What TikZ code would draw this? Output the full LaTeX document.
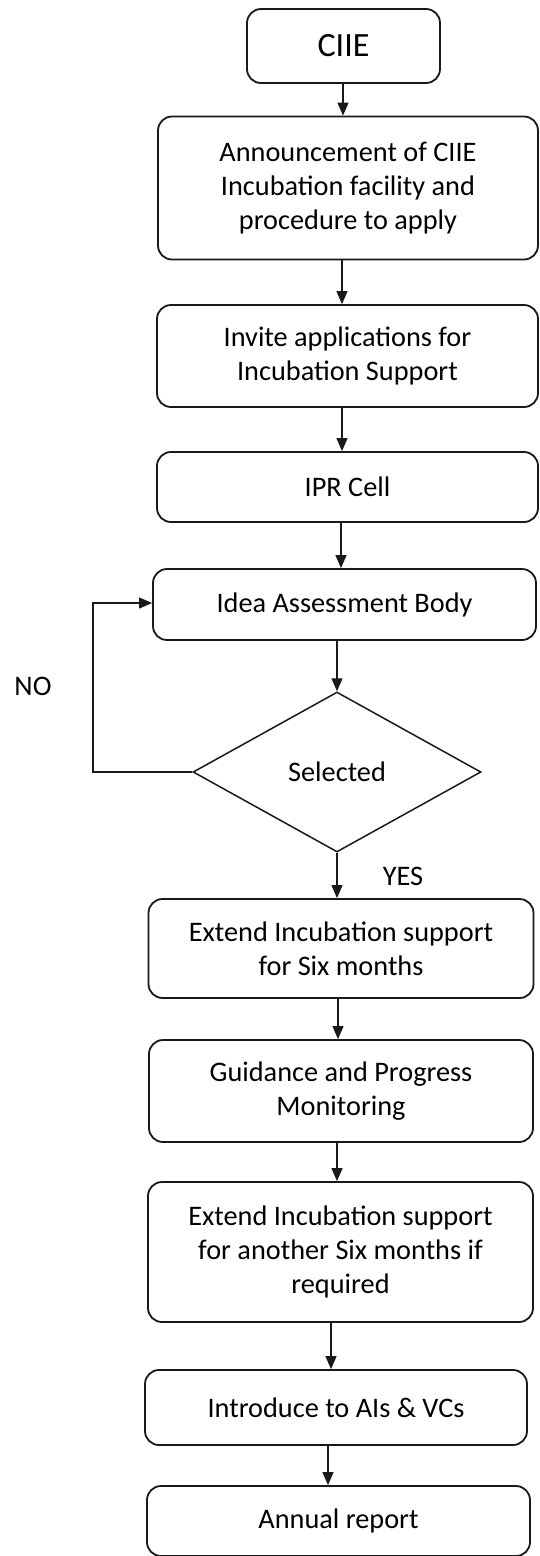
\documentclass[tikz,border=0pt]{standalone}
\usepackage{fontspec}
\setmainfont{Carlito}
\usetikzlibrary{arrows.meta,shapes.geometric}
\begin{document}
\begin{tikzpicture}[x=1pt,y=-1pt,
  box/.style={draw=black!90, line width=1.8pt, rounded corners=14pt, inner sep=0pt, align=center,
    font=\fontsize{28.3}{34}\selectfont},
  dec/.style={draw=black!90, line width=1.5pt, diamond, inner sep=0pt, aspect=1.8,
    font=\fontsize{28.3}{34}\selectfont},
  arr/.style={draw=black!90, line width=1.2pt, -{Triangle[length=13pt,width=11pt]}},
  lbl/.style={font=\fontsize{28.3}{34}\selectfont, inner sep=0pt}]
\useasboundingbox (0,0) rectangle (540,1556);
\fill[white] (0,0) rectangle (540,1556);

\node[box, minimum width=193pt, minimum height=74pt, font=\fontsize{34}{40}\selectfont] (ciie) at (343.5,46) {CIIE};
\node[box, minimum width=380pt, minimum height=143pt] (ann) at (348,188) {Announcement of CIIE\\Incubation facility and\\procedure to apply};
\node[box, minimum width=381pt, minimum height=102pt] (inv) at (347.5,356) {Invite applications for\\Incubation Support};
\node[box, minimum width=381pt, minimum height=70pt] (ipr) at (347.5,487) {IPR Cell};
\node[box, minimum width=383pt, minimum height=71pt] (idea) at (344.5,604.5) {Idea Assessment Body};
\node[dec, minimum width=288pt, minimum height=160pt] (sel) at (337,772) {Selected};
\node[box, minimum width=385pt, minimum height=99pt] (ext) at (341,948.5) {Extend Incubation support\\for Six months};
\node[box, minimum width=384pt, minimum height=102pt] (gui) at (341,1091) {Guidance and Progress\\Monitoring};
\node[box, minimum width=385pt, minimum height=140pt] (ext2) at (340.5,1252) {Extend Incubation support\\for another Six months if\\required};
\node[box, minimum width=382pt, minimum height=75pt] (intro) at (336,1407.5) {Introduce to AIs \& VCs};
\node[box, minimum width=383pt, minimum height=70pt] (annual) at (338.5,1521) {Annual report};

\node[lbl] (no) at (33,686) {NO};
\node[lbl] (yes) at (403,876) {YES};
\coordinate (lb) at (93,772);
\coordinate (lt) at (93,603);

\draw[arr] (ciie.south -| 343,0) -- (ann.north -| 343,0);
\draw[arr] (ann.south -| 342,0) -- (inv.north -| 342,0);
\draw[arr] (inv.south -| 342,0) -- (ipr.north -| 342,0);
\draw[arr] (ipr.south -| 341,0) -- (idea.north -| 341,0);
\draw[arr] (idea.south -| 337,0) -- (sel.north);
\draw[arr] (sel.south) -- (ext.north -| 337,0);
\draw[arr] (ext.south -| 338,0) -- (gui.north -| 338,0);
\draw[arr] (gui.south -| 337,0) -- (ext2.north -| 337,0);
\draw[arr] (ext2.south -| 331,0) -- (intro.north -| 331,0);
\draw[arr] (intro.south -| 328,0) -- (annual.north -| 328,0);
\draw[arr] (sel.west) -- (lb) -- (lt) -- (idea.west |- lt);
\end{tikzpicture}
\end{document}
